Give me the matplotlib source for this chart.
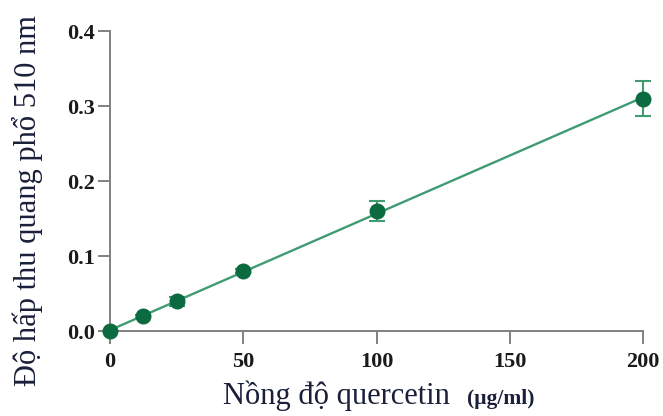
import matplotlib
matplotlib.use("Agg")
import matplotlib.pyplot as plt
import numpy as np

conc = [0, 12.5, 25, 50, 100, 200]
absorb = [0.0, 0.02, 0.04, 0.08, 0.16, 0.31]
err = [0.0, 0.002, 0.006, 0.003, 0.013, 0.023]
xticks = [0, 50, 100, 150, 200]
yticks = [0.0, 0.1, 0.2, 0.3, 0.4]

plt.rcParams['font.family'] = ['Liberation Serif', 'DejaVu Serif']

fig = plt.figure(figsize=(6.63, 4.16), dpi=100)
ax = fig.add_axes([0.166, 0.204, 0.804, 0.721])

# fitted line
coef = np.polyfit(conc, absorb, 1)
xs = np.array([0, 200])
ax.plot(xs, np.polyval(coef, xs), color='#3f9c72', lw=1.7, zorder=2, clip_on=False)
ax.errorbar(conc, absorb, yerr=err, fmt='o', color='#0b6a3f', ms=10.5,
            ecolor='#3f9c72', elinewidth=1.5, capsize=6, capthick=1.5, zorder=3, clip_on=False)

ax.set_xlim(0, 200)
ax.set_ylim(0, 0.4)
ax.set_xticks(xticks)
ax.set_yticks(yticks)
ax.set_xticklabels([str(v) for v in xticks], fontweight='bold', fontsize=16)
ax.set_yticklabels([f"{v:.1f}" for v in yticks], fontweight='bold', fontsize=16)
for s in ['top', 'right']:
    ax.spines[s].set_visible(False)
for s in ['left', 'bottom']:
    ax.spines[s].set_color('#808080')
    ax.spines[s].set_linewidth(1.4)
ax.tick_params(axis='both', colors='#808080', labelcolor='#1a1a1a', width=1.4)
ax.tick_params(axis='y', length=9, pad=2)
ax.tick_params(axis='x', length=9, pad=6)

fig.text(0.042, 0.517, 'Độ hấp thu quang phổ 510 nm', fontsize=22, color='#1a1f3a',
         rotation=90, ha='center', va='center')
fig.text(0.508, 0.028, 'Nồng độ quercetin', fontsize=22, color='#1a1f3a', ha='center', va='baseline')
fig.text(0.704, 0.028, '(μg/ml)', fontsize=15.5, fontweight='bold', color='#1a1f3a', ha='left', va='baseline')

fig.savefig('out.png', dpi=100)
